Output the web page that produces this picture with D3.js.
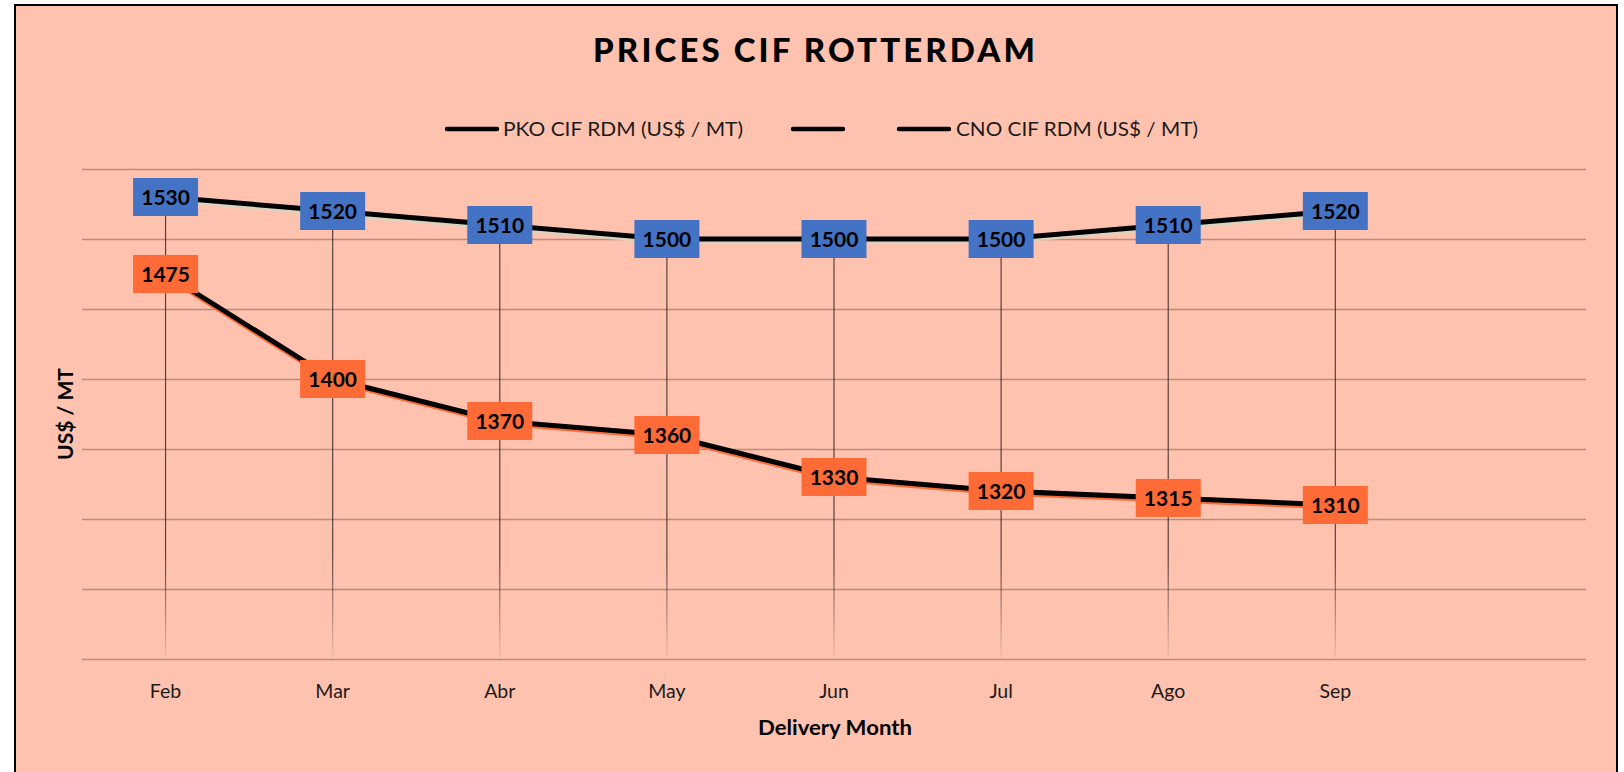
<!DOCTYPE html>
<html>
<head>
<meta charset="utf-8">
<script src="https://cdn.jsdelivr.net/npm/d3@7"></script>
<style>
  html, body { margin: 0; padding: 0; background: #ffffff; }
  svg { display: block; }
  text { font-family: Lato, "Open Sans", sans-serif; }
</style>
</head>
<body>
<svg id="chart" width="1624" height="772"></svg>
<script>
// ---- data ----
const months = ["Feb", "Mar", "Abr", "May", "Jun", "Jul", "Ago", "Sep"];
const pkoValues = [1530, 1520, 1510, 1500, 1500, 1500, 1510, 1520];
const cnoValues = [1475, 1400, 1370, 1360, 1330, 1320, 1315, 1310];
const yTickValues = [1200, 1250, 1300, 1350, 1400, 1450, 1500, 1550];
const legendLabels = ["PKO CIF RDM (US$ / MT)", "", "CNO CIF RDM (US$ / MT)"];
const titleText = "PRICES CIF ROTTERDAM";
const yTitle = "US$ / MT";
const xTitle = "Delivery Month";

// ---- layout ----
const bg = "#FFC2AF";
const blue = "#4472C4";
const orange = "#FF6B37";
const plotL = 82, plotR = 1586, plotT = 169, plotB = 659;
const slots = 9; // chart has room for one more category after Sep
const bw = (plotR - plotL) / slots;

const svg = d3.select("#chart");

// frame
svg.append("rect")
  .attr("x", 15).attr("y", 5).attr("width", 1602).attr("height", 800)
  .attr("fill", bg).attr("stroke", "#000").attr("stroke-width", 2);

const x = d3.scaleBand().domain(months).range([plotL, plotL + bw * months.length]);
const cx = m => x(m) + x.bandwidth() / 2;
const y = d3.scaleLinear().domain([1200, 1550]).range([plotB, plotT]);

// gridlines
const gridAxis = d3.axisLeft(y).tickValues(yTickValues).tickSize(-(plotR - plotL)).tickFormat("");
const g = svg.append("g").attr("transform", `translate(${plotL},0)`).call(gridAxis);
g.select(".domain").remove();
g.selectAll(".tick line").attr("stroke", "#B98C7E").attr("stroke-width", 1.6);

// x tick labels
const xAxis = d3.axisBottom(x).tickSize(0).tickPadding(0);
const xg = svg.append("g").attr("transform", `translate(0,${plotB})`).call(xAxis);
xg.select(".domain").remove();
xg.selectAll(".tick text")
  .attr("y", 39).attr("dy", null)
  .style("font-family", "Lato, sans-serif")
  .style("font-size", "19.5px").attr("fill", "#1a1a1a");

// gradient for drop lines
const defs = svg.append("defs");
const grad = defs.append("linearGradient")
  .attr("id", "dropFade").attr("gradientUnits", "userSpaceOnUse")
  .attr("x1", 0).attr("y1", 555).attr("x2", 0).attr("y2", plotB);
grad.append("stop").attr("offset", 0).attr("stop-color", "#3a2a26").attr("stop-opacity", 0.85);
grad.append("stop").attr("offset", 1).attr("stop-color", "#3a2a26").attr("stop-opacity", 0.05);

svg.append("g").selectAll("line")
  .data(months)
  .join("line")
  .attr("x1", d => cx(d)).attr("x2", d => cx(d))
  .attr("y1", (d, i) => y(pkoValues[i]))
  .attr("y2", plotB)
  .attr("stroke", "url(#dropFade)")
  .attr("stroke-width", 1.2);

// lines
function drawSeries(values, shadowColor, shadowOffset) {
  const pts = months.map((m, i) => [cx(m), y(values[i])]);
  const line = d3.line();
  svg.append("path")
    .attr("d", line(pts.map(p => [p[0], p[1] + shadowOffset])))
    .attr("fill", "none").attr("stroke", shadowColor).attr("stroke-width", 4);
  svg.append("path")
    .attr("d", line(pts))
    .attr("fill", "none").attr("stroke", "#000").attr("stroke-width", 5)
    .attr("stroke-linejoin", "round");
}
drawSeries(pkoValues, "#D9D3C0", 3);
drawSeries(cnoValues, orange, 2.5);

// label boxes
function drawLabels(values, color) {
  const gl = svg.append("g");
  const bwid = 65, bh = 38;
  const items = gl.selectAll("g").data(months).join("g")
    .attr("transform", (d, i) => `translate(${cx(d)},${y(values[i])})`);
  items.append("rect")
    .attr("x", -bwid / 2).attr("y", -bh / 2).attr("width", bwid).attr("height", bh)
    .attr("fill", color);
  items.append("text")
    .attr("text-anchor", "middle").attr("dy", "0.36em")
    .style("font-weight", 700).style("font-size", "21px")
    .attr("fill", "#000")
    .text((d, i) => values[i]);
}
drawLabels(pkoValues, blue);
drawLabels(cnoValues, orange);

// title
svg.append("text")
  .attr("x", 814).attr("y", 62)
  .attr("text-anchor", "middle")
  .attr("textLength", 442).attr("lengthAdjust", "spacing")
  .style("font-weight", 900).style("font-size", "33px")
  .attr("fill", "#000")
  .text(titleText);

// legend
const legendItems = [
  { lx: 445, label: legendLabels[0], tx: 503, tw: 240 },
  { lx: 791, label: legendLabels[1], tx: 0, tw: 0 },
  { lx: 897, label: legendLabels[2], tx: 956, tw: 242 }
];
const lg = svg.append("g");
legendItems.forEach(it => {
  lg.append("line")
    .attr("x1", it.lx + 2).attr("x2", it.lx + 52)
    .attr("y1", 129).attr("y2", 129)
    .attr("stroke", "#000").attr("stroke-width", 4.5).attr("stroke-linecap", "round");
  if (it.label) {
    lg.append("text")
      .attr("x", it.tx).attr("y", 136)
      .attr("textLength", it.tw).attr("lengthAdjust", "spacingAndGlyphs")
      .style("font-size", "19px").attr("fill", "#1a1a1a")
      .text(it.label);
  }
});

// axis titles
svg.append("text")
  .attr("transform", "translate(73,414) rotate(-90)")
  .attr("text-anchor", "middle")
  .attr("textLength", 92).attr("lengthAdjust", "spacingAndGlyphs")
  .style("font-weight", 700).style("font-size", "20.5px")
  .attr("fill", "#000")
  .text(yTitle);

svg.append("text")
  .attr("x", 835).attr("y", 735)
  .attr("text-anchor", "middle")
  .attr("textLength", 154).attr("lengthAdjust", "spacingAndGlyphs")
  .style("font-weight", 700).style("font-size", "20.5px")
  .attr("fill", "#000")
  .text(xTitle);
</script>
</body>
</html>
